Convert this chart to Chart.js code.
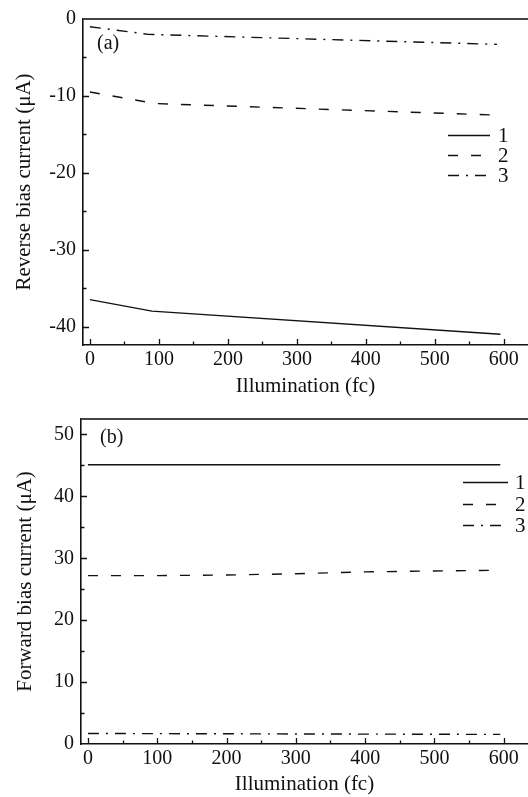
<!DOCTYPE html>
<html>
<head>
<meta charset="utf-8">
<script src="https://cdn.jsdelivr.net/npm/chart.js@4/dist/chart.umd.min.js"></script>
<style>
  html, body { margin: 0; padding: 0; background: #fff; }
  #wrap { position: relative; width: 528px; height: 797px; overflow: hidden; }
  canvas { position: absolute; left: 0; }
  #c1 { top: 0; }
  #c2 { top: 400px; }
</style>
</head>
<body>
<div id="wrap">
  <canvas id="c1" width="528" height="400"></canvas>
  <canvas id="c2" width="528" height="397"></canvas>
</div>
<script>
// ---------- DATA ----------
const seriesNames = ['1', '2', '3'];
const xTickLabels = [0, 100, 200, 300, 400, 500, 600];

// Panel (a): reverse bias current (µA)
const revX1 = [0, 90, 595];
const revY1 = [-36.5, -38.0, -41.0];
const revX2 = [0, 95, 590];
const revY2 = [-9.5, -11.0, -12.5];
const revX3 = [0, 85, 590];
const revY3 = [-1.0, -2.0, -3.3];
const revYTicks = [-40, -30, -20, -10, 0];

// Panel (b): forward bias current (µA)
const fwdX1 = [0, 595];
const fwdY1 = [45.1, 45.1];
const fwdX2 = [0, 100, 200, 300, 400, 500, 585];
const fwdY2 = [27.2, 27.2, 27.3, 27.5, 27.8, 27.95, 28.05];
const fwdX3 = [0, 595];
const fwdY3 = [1.7, 1.55];
const fwdYTicks = [0, 10, 20, 30, 40, 50];

// ---------- STYLE ----------
const FONT = "'Liberation Serif', 'Times New Roman', serif";
const INK = '#111';
const dashes = [[], [10, 13], [11, 7, 2, 7]];

function pts(xs, ys) { return xs.map((x, i) => ({ x: x, y: ys[i] })); }

function makeDatasets(list) {
  return list.map((d, i) => ({
    label: seriesNames[i],
    data: pts(d[0], d[1]),
    borderColor: INK,
    borderWidth: 1.4,
    borderDash: dashes[i],
    pointRadius: 0,
    tension: 0,
    fill: false
  }));
}

const decor = {
  id: 'decor',
  afterDraw(chart, args, o) {
    const { ctx, chartArea: a, scales: { x, y } } = chart;
    ctx.save();
    // top frame line
    ctx.strokeStyle = '#444';
    ctx.lineWidth = 2;
    ctx.beginPath();
    ctx.moveTo(a.left, a.top);
    ctx.lineTo(chart.width, a.top);
    ctx.stroke();
    // inward ticks
    ctx.strokeStyle = INK;
    ctx.lineWidth = 1.3;
    ctx.beginPath();
    for (let v = 0; v <= 600; v += 50) {
      const px = Math.round(x.getPixelForValue(v)) + 0.5;
      const len = (v % 100 === 0) ? 6 : 3.5;
      ctx.moveTo(px, a.bottom);
      ctx.lineTo(px, a.bottom - len);
    }
    for (let v = o.yMin; v <= o.yMax; v += 5) {
      const py = Math.round(y.getPixelForValue(v)) + 0.5;
      if (py < a.top + 1 || py > a.bottom - 1) continue;
      const len = (v % 10 === 0) ? 6 : 3.5;
      ctx.moveTo(a.left, py);
      ctx.lineTo(a.left + len, py);
    }
    ctx.stroke();
    // panel label
    ctx.fillStyle = INK;
    ctx.font = '20px ' + FONT;
    ctx.textBaseline = 'middle';
    ctx.textAlign = 'left';
    ctx.fillText(o.panel, o.panelX, o.panelY);
    // legend
    ctx.lineWidth = 1.4;
    ctx.font = '21px ' + FONT;
    chart.data.datasets.forEach((ds, i) => {
      const ly = Math.round(o.legY + i * o.legStep) + 0.5;
      ctx.setLineDash(ds.borderDash || []);
      ctx.beginPath();
      ctx.moveTo(o.legX0, ly);
      ctx.lineTo(o.legX1, ly);
      ctx.stroke();
      ctx.setLineDash([]);
      ctx.fillText(ds.label, o.legTX, ly + 1);
    });
    ctx.restore();
  }
};

function makeChart(id, datasets, cfg) {
  return new Chart(document.getElementById(id), {
    type: 'line',
    data: { datasets: datasets },
    plugins: [decor],
    options: {
      responsive: false,
      animation: false,
      devicePixelRatio: 1,
      layout: { padding: { top: cfg.padTop, left: 0, right: 0, bottom: 0 } },
      plugins: {
        legend: { display: false },
        tooltip: { enabled: false },
        decor: cfg.decor
      },
      scales: {
        x: {
          type: 'linear',
          min: -10, max: 635,
          grid: { display: false, drawTicks: false },
          border: { display: true, color: INK, width: 1.6 },
          ticks: {
            autoSkip: false, maxRotation: 0, padding: 3,
            color: INK, font: { family: FONT, size: 20 }
          },
          afterBuildTicks: s => { s.ticks = xTickLabels.map(v => ({ value: v })); },
          afterFit: s => { s.height = cfg.xHeight; },
          title: {
            display: true, text: 'Illumination (fc)', color: INK,
            font: { family: FONT, size: 21 }, padding: { top: 0, bottom: cfg.xTitlePad }
          }
        },
        y: {
          type: 'linear',
          min: cfg.yMin, max: cfg.yMax,
          grid: { display: false, drawTicks: false },
          border: { display: true, color: INK, width: 1.6 },
          ticks: {
            autoSkip: false, padding: 7,
            color: INK, font: { family: FONT, size: 20 }
          },
          afterBuildTicks: s => { s.ticks = cfg.yTicks.map(v => ({ value: v })); },
          afterFit: s => { s.width = cfg.yWidth; },
          title: {
            display: true, text: cfg.yTitle, color: INK,
            font: { family: FONT, size: 21 }, padding: { top: cfg.yTitlePad, bottom: 0 }
          }
        }
      }
    }
  });
}

makeChart('c1', makeDatasets([[revX1, revY1], [revX2, revY2], [revX3, revY3]]), {
  padTop: 16, xHeight: 55, yWidth: 83, xTitlePad: 1, yTitlePad: 12,
  yMin: -42.4, yMax: 0, yTicks: revYTicks,
  yTitle: 'Reverse bias current (\u03BCA)',
  decor: { yMin: -45, yMax: 0, panel: '(a)', panelX: 97, panelY: 44,
           legX0: 448, legX1: 490, legTX: 498, legY: 135, legStep: 20 }
});

makeChart('c2', makeDatasets([[fwdX1, fwdY1], [fwdX2, fwdY2], [fwdX3, fwdY3]]), {
  padTop: 15, xHeight: 53, yWidth: 81, xTitlePad: 0, yTitlePad: 13,
  yMin: 0, yMax: 52.5, yTicks: fwdYTicks,
  yTitle: 'Forward bias current (\u03BCA)',
  decor: { yMin: 0, yMax: 55, panel: '(b)', panelX: 100, panelY: 38,
           legX0: 463, legX1: 508, legTX: 515, legY: 82, legStep: 21.5 }
});
</script>
</body>
</html>
